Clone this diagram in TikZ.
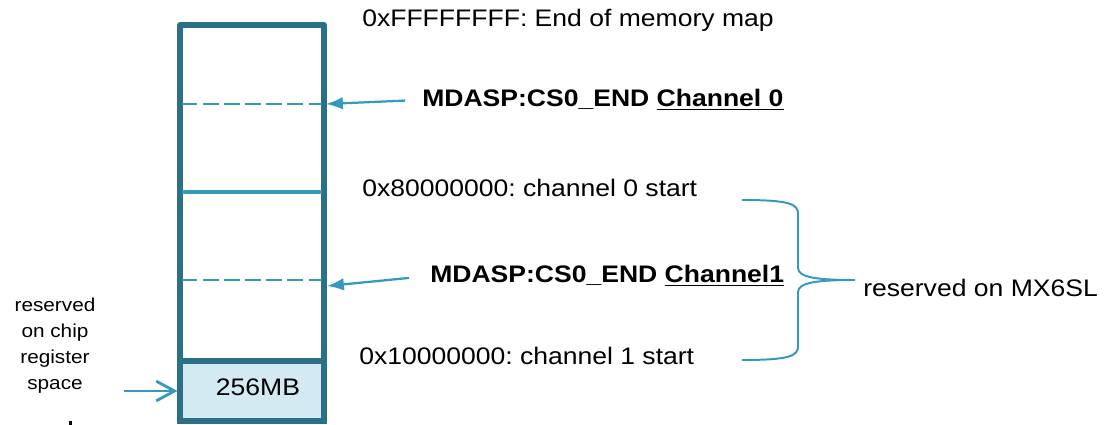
\documentclass[tikz,border=0pt]{standalone}
\usepackage{fontspec}
\setmainfont{Liberation Sans}[FakeStretch=1.11]
\usepackage{tikz}
\usetikzlibrary{fit}
\usetikzlibrary{arrows.meta}
\definecolor{mapline}{HTML}{2A7088}
\definecolor{ptrblue}{HTML}{3399BF}
\definecolor{regfill}{HTML}{D4EAF2}
\frenchspacing

\tikzset{
	maplabel/.style={anchor=base west, inner sep=0pt, font=\fontsize{17}{20}\selectfont},
	chlabel/.style={maplabel, font=\fontsize{17}{20}\selectfont\bfseries},
	ptr/.style={draw=ptrblue, fill=ptrblue, line width=1.6pt, -{Latex[length=12pt,width=9pt]}},
	bound/.style={ptrblue, line width=1.4pt, dash pattern=on 11pt off 4pt},
}

\begin{document}
\begin{tikzpicture}[x=0.025cm, y=-0.025cm]
	\useasboundingbox (0,0) rectangle (1110,425);

	\node[fill=regfill, draw=mapline, line width=3.6pt, fit={(180,361) (324,421)}, inner sep=0pt] (R) {};	% 256MB
	\node[maplabel, anchor=base] (Rt) at (258,395) {256MB};
	\node[draw=mapline, line width=3.6pt, line join=round, fit={(180,25) (324,421)}, inner sep=0pt] (M) {};	% map

	\draw[bound] (182,104) -- (322,104);	% CS0_END
	\draw[ptrblue, line width=2.8pt] (182,192) -- (322,192);
	\draw[bound] (182,280) -- (322,280);

	\node[maplabel] (top) at (362,27) {0xFFFFFFFF: End of memory map};
	\node[chlabel] (ch0) at (422,107) {MDASP:CS0\_END \underline{Channel 0}};
	\node[maplabel] (s0) at (362,197) {0x80000000: channel 0 start};
	\node[chlabel] (ch1) at (430,283) {MDASP:CS0\_END \underline{Channel1}};
	\node[maplabel] (s1) at (359,364) {0x10000000: channel 1 start};
	\node[maplabel] (mx) at (863,297) {reserved on MX6SL};
	\node[anchor=north, inner sep=0pt, align=center, font=\fontsize{13.3}{18.5}\selectfont] (chip) at (55,298) {reserved\\on chip\\register\\space};

	\coordinate (cs0) at (326,104);	% Pointer
	\coordinate (cs1) at (327,286);
	\coordinate (regin) at (124,391);
	\draw[ptr, shorten <=12pt] (ch0.west) -- (cs0);
	\draw[ptr, shorten <=15pt] (ch1.west) -- (cs1);
	\draw[ptrblue, line width=2pt, -{Straight Barb[length=13pt,width=14pt]}] (regin) -- (R.west);

	\draw[ptrblue, line width=1.4pt] (742,200) .. controls (790,200) and (798,204) .. (798,214) -- (798,268)
		.. controls (798,278) and (820,280) .. (855,280)
		.. controls (820,280) and (798,282) .. (798,292) -- (798,346)
		.. controls (798,356) and (790,360) .. (742,360);	% brace

	\fill (69,421) rectangle (72,425);
\end{tikzpicture}
\end{document}
